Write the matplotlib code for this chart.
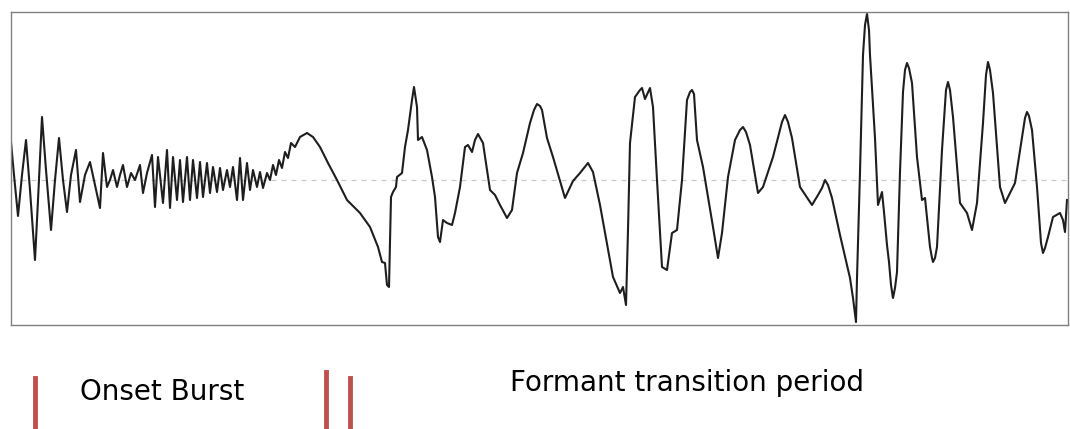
import matplotlib
matplotlib.use("Agg")
import matplotlib.pyplot as plt
from matplotlib.lines import Line2D

# waveform (time in samples, amplitude in arbitrary units)
onset_t = [11, 14, 18, 22, 26, 30, 35, 38, 42, 46, 51, 55, 59, 63, 67, 71, 76, 80, 85, 90,
           95, 100, 103, 107, 110, 113, 117, 120, 123, 127, 131, 135, 140, 143, 147, 152, 155,
           158, 163, 167, 170, 173, 177, 180, 183, 187, 190, 193, 197, 200, 203, 207, 210, 213,
           217, 220, 223, 227, 230, 233, 237, 240, 243, 247, 250, 253, 257, 260, 263, 267]
onset_amp = [38, 5, -36, 5, 40, -10, -80, -20, 63, 10, -50, 0, 42, 0, -32, 5, 30, -22, 5, 18,
             -5, -28, 27, -7, 0, 10, -7, 5, 15, -7, 7, 0, 15, -13, 7, 25, -27,
             23, -23, 30, -28, 23, -20, 20, -22, 23, -20, 20, -18, 18, -17, 17, -13, 13,
             -12, 12, -10, 10, -7, 13, -20, 22, -20, 17, -10, 10, -7, 8, -8, 7]

transition_t = [270, 273, 276, 279, 282, 285, 288, 291, 295, 300, 307, 313, 320, 328, 337, 347,
                360, 370, 378, 382, 385, 387, 389, 391, 393, 396, 397, 402, 405, 408, 412, 414,
                417, 418, 422, 427, 432, 435, 438, 440, 443, 447, 452, 455, 460, 465, 468, 472,
                475, 478, 483, 490, 495, 500, 507, 512, 517, 523, 530, 534, 537, 540, 542, 547,
                553, 565, 573, 580, 588, 593, 600, 613, 620, 623, 626, 628, 630, 635, 640, 642,
                645, 650, 653, 657, 662, 667, 672, 677, 682, 687, 690, 692, 694, 697, 703, 713,
                718, 722, 728, 735, 740, 743, 746, 750, 758, 763, 773, 782, 785, 788, 792, 800,
                812, 818, 822, 825, 828, 832, 840, 850, 853, 856, 857, 860, 863, 865, 867, 869,
                870, 875, 878, 882, 884, 887, 889, 891, 893, 895, 897, 900, 903, 905, 907, 909,
                912, 917, 922, 925, 930, 932, 933, 935, 937, 942, 946, 948, 950, 953, 960, 967,
                972, 977, 983, 986, 988, 990, 993, 1000, 1005, 1010, 1015, 1022, 1025, 1027,
                1029, 1032, 1037, 1041, 1043, 1045, 1048, 1053, 1060, 1063, 1065, 1067]
transition_amp = [0, 15, 5, 20, 12, 28, 22, 37, 33, 43, 47, 43, 33, 17, 0, -20,
                  -33, -47, -67, -82, -83, -105, -107, -17, -12, -7, 3, 7, 33, 50, 80, 93,
                  73, 40, 43, 30, 3, -17, -57, -62, -40, -43, -45, -33, -7, 33, 35, 28,
                  40, 46, 37, -10, -15, -25, -38, -30, 7, 27, 57, 70, 76, 74, 70, 42,
                  23, -18, -1, 7, 17, 8, -25, -97, -113, -107, -125, -50, 37, 83, 90, 92,
                  81, 92, 73, 0, -87, -90, -53, -50, 0, 80, 88, 90, 86, 40, 13, -47,
                  -78, -53, 3, 40, 50, 53, 48, 35, -13, -7, 23, 58, 65, 58, 42, -7,
                  -25, -15, -8, 0, -5, -18, -55, -98, -118, -142, -98, 8, 125, 155, 166, 150,
                  125, 42, -25, -12, -32, -65, -82, -105, -118, -108, -92, 8, 88, 110, 117, 112,
                  97, 23, -20, -18, -67, -78, -82, -78, -67, 30, 90, 98, 90, 63, -23, -33,
                  -50, -23, 57, 105, 118, 110, 87, -7, -23, -13, -3, 43, 62, 68,
                  64, 50, -7, -63, -73, -68, -57, -37, -33, -40, -52, -20]

# phase markers below the plot (figure x fraction) and their labels
marker_x = [35 / 1070, 326 / 1070, 350 / 1070]
marker_top = [51 / 429, 57 / 429, 51 / 429]
labels = ["Onset Burst", "Formant transition period"]

fig = plt.figure(figsize=(10.70, 4.29), dpi=100)
ax = fig.add_axes([11 / 1070, (429 - 325) / 429, (1068 - 11) / 1070, (325 - 12) / 429])

ax.axhline(0, color="#c8c8c8", lw=0.9, ls=(0, (4, 4)), zorder=1)
ax.plot(onset_t + transition_t, onset_amp + transition_amp, color="#1e1e1e", lw=1.5,
        solid_joinstyle="round", zorder=2)

ax.set_xlim(11, 1068)
ax.set_ylim(-145, 168)
ax.set_xticks([])
ax.set_yticks([])
for s in ax.spines.values():
    s.set_color("#808080")
    s.set_linewidth(1.0)

for x, top in zip(marker_x, marker_top):
    fig.add_artist(Line2D([x, x], [0, top], color="#c0504d", lw=3.5, transform=fig.transFigure))

fig.text(80 / 1070, 37 / 429, labels[0], fontsize=20, family="DejaVu Sans", va="center", ha="left")
fig.text(510 / 1070, 46 / 429, labels[1], fontsize=20, family="DejaVu Sans", va="center", ha="left")

fig.savefig("out.png", dpi=100)
